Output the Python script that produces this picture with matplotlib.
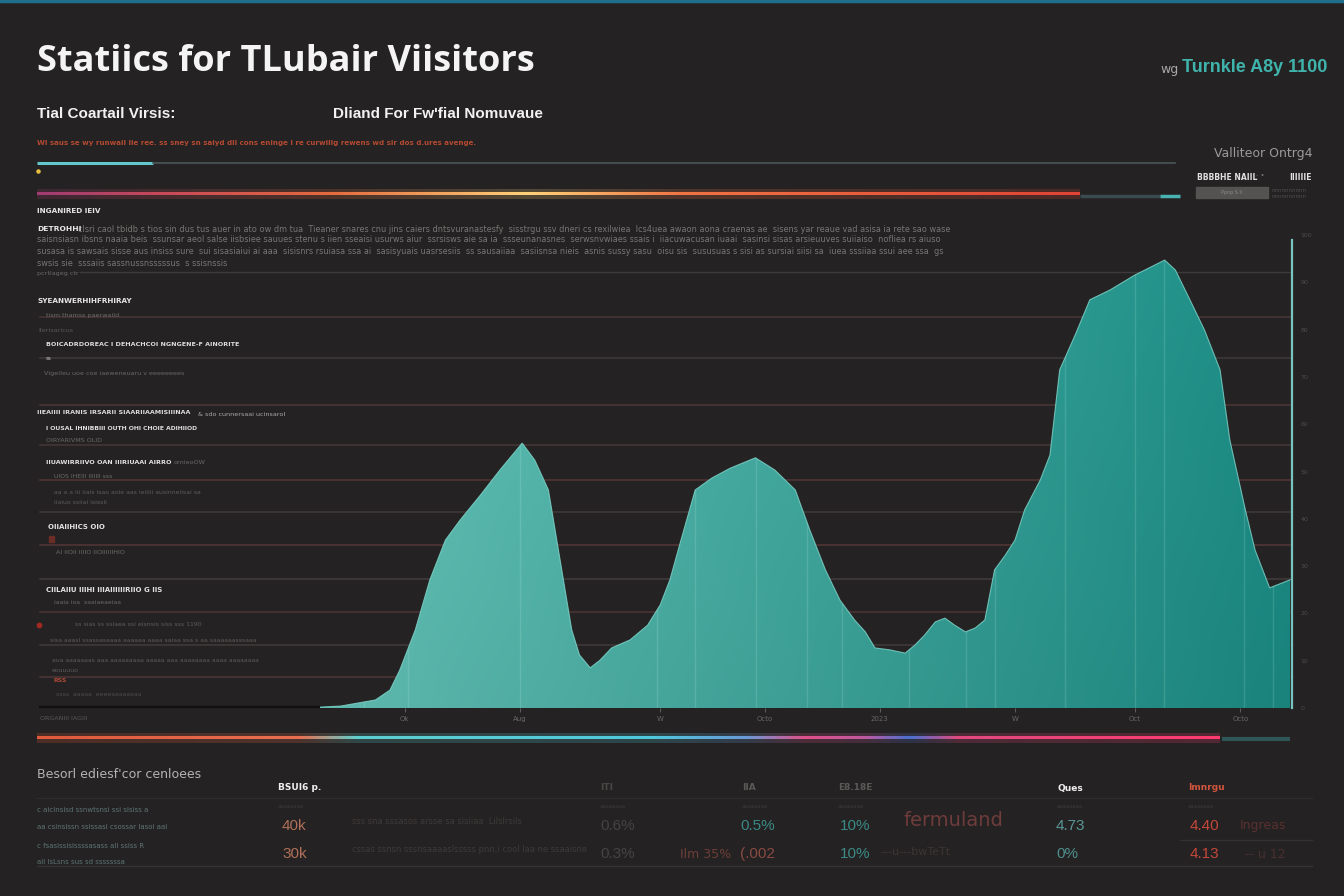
import numpy as np
import matplotlib.pyplot as plt
from matplotlib.colors import LinearSegmentedColormap, to_rgb

# visitors curve, x = position along the period (0-100), y = share of peak (0-100)
days = [0, 2.1, 5.7, 7.2, 8.2, 9.8, 11.3, 12.9, 14.4, 16.5, 18.5, 20.8, 22.1, 23.5,
        24.7, 25.9, 26.7, 27.8, 28.8, 30.0, 31.9, 33.7, 35.0, 36.0, 37.0, 38.6, 40.3,
        42.2, 44.8, 46.8, 48.9, 50.4, 52.0, 53.5, 55.0, 56.1, 57.1, 58.6, 60.2, 61.2,
        62.2, 63.3, 64.3, 65.3, 66.4, 67.4, 68.4, 69.4, 70.5, 71.5, 72.5, 74.1, 75.1,
        76.1, 77.7, 79.2, 81.3, 83.8, 86.9, 88.0, 89.5, 91.0, 92.6, 93.6, 95.2, 96.2,
        97.7, 99.8]
visitors = [0.2, 0.4, 1.7, 3.8, 8.0, 16.5, 27.1, 35.5, 39.7, 45.0, 50.3, 56.0, 52.4, 46.1,
            31.3, 16.5, 11.2, 8.5, 10.1, 12.7, 14.4, 17.5, 21.8, 27.1, 34.5, 46.1, 48.6,
            50.7, 52.9, 50.3, 46.1, 37.6, 29.2, 22.8, 18.6, 16.1, 12.7, 12.3, 11.6, 13.3,
            15.4, 18.2, 19.0, 17.5, 16.1, 16.9, 18.6, 29.2, 32.3, 35.5, 41.9, 48.2, 53.5,
            71.5, 78.9, 86.3, 88.4, 91.5, 94.7, 92.6, 86.3, 79.9, 71.5, 56.7, 41.9, 33.4,
            25.4, 27.1]

x_ticks = [8.7, 20.6, 35.0, 45.8, 57.6, 71.5, 83.8, 94.7]
x_labels = ["Ok", "Aug", "W", "Octo", "2023", "W", "Oct", "Octo"]
y_ticks = [0, 10, 20, 30, 40, 50, 60, 70, 80, 90, 100]
stripe_x = [4.5, 9.1, 20.6, 34.7, 38.6, 44.9, 50.1, 53.7, 60.6, 66.5, 69.4, 76.6,
            83.8, 86.8, 95.1, 98.0]

tbl_heads = ["BSUI6 p.", "ITI", "IIA", "E8.18E", "Ques", "Imnrgu"]
tbl_row1 = ["40k", "0.6%", "0.5%", "10%", "4.73", "4.40"]
tbl_row2 = ["30k", "0.3%", "(.002", "10%", "0%", "4.13"]

BG = '#242222'
W, H = 1344, 896

fig = plt.figure(figsize=(13.44, 8.96), dpi=100, facecolor=BG)
bg = fig.add_axes([0, 0, 1, 1], zorder=0)
bg.axis('off')
bg.set_facecolor(BG)


def grad_line(x0, x1, y, stops, lw_px, glow=0.22):
    cmap = LinearSegmentedColormap.from_list('g', stops)
    row = cmap(np.linspace(0, 1, 600))[None, :, :]
    if glow:
        halo = row.copy()
        halo[..., 3] = glow
        bg.imshow(halo, extent=[x0, x1, y + lw_px * 1.6, y - lw_px * 1.6],
                  aspect='auto', interpolation='bilinear', zorder=2)
    bg.imshow(row, extent=[x0, x1, y + lw_px / 2, y - lw_px / 2],
              aspect='auto', interpolation='bilinear', zorder=3)


# top border
bg.plot([0, W], [1, 1], color='#1f6f8c', lw=2.5)

# title block
bg.text(37, 62, "Statiics for TLubair Viisitors", color='#f4f4f4', fontsize=26,
        fontweight='bold', family='Open Sans', va='center')
bg.text(37, 114, "Tial Coartail Virsis:", color='#f2f2f2', fontsize=11,
        fontweight='bold', family='Liberation Sans', va='center')
bg.text(333, 114, "Dliand For Fw'fial Nomuvaue", color='#f2f2f2', fontsize=11,
        fontweight='bold', family='Liberation Sans', va='center')
bg.text(37, 143, "Wl saus se wy runwail lie ree. ss sney sn saiyd dil cons eninge i re curwillg "
        "rewens wd sir dos d.ures avenge.", color='#b44a32', fontsize=5.1, fontweight='bold',
        va='center')

bg.text(1179, 69, "wg", color='#a8a8a8', fontsize=9, va='center', ha='right')
bg.text(1327, 68, "Turnkle A8y 1100", color='#3fb4ac', fontsize=13, fontweight='bold',
        va='center', ha='right', family='Liberation Sans')
bg.text(1313, 153, "Valliteor Ontrg4", color='#9a9a9a', fontsize=9, va='center', ha='right')
bg.text(1197, 177, "BBBBHE NAIIL", color='#e0e0e0', fontsize=5.5, fontweight='bold', va='center')
bg.text(1256, 176, "\u00b7 \u2022", color='#777777', fontsize=5, va='center')
bg.text(1312, 177, "IIIIIIE", color='#e0e0e0', fontsize=5.5, fontweight='bold', va='center', ha='right')
bg.add_patch(plt.Rectangle((1196, 187), 72, 11, color='#555252'))
bg.text(1232, 192.5, "Ppnp S II", color='#8a8888', fontsize=3.5, va='center', ha='center')
bg.text(1272, 190, "nnnnnnnnnn", color='#4e4c4c', fontsize=4, va='center')
bg.text(1272, 197, "nnnnnnnnnn", color='#4e4c4c', fontsize=4, va='center')

# decorative lines near the top
bg.plot([37, 153], [163, 163], color='#62c6cc', lw=2.2, solid_capstyle='butt')
bg.plot([153, 1175], [163, 163], color='#4b5659', lw=1.2)
bg.scatter([38], [171], s=5, color='#e8c040')
grad_line(37, 1080, 194, [(0, '#a03c72'), (0.12, '#c84a5a'), (0.28, '#e46a3e'),
                          (0.47, '#ffd27a'), (0.62, '#f07444'), (1, '#e04436')], 3)
bg.plot([1080, 1160], [196, 196], color='#3a4b50', lw=2.5, solid_capstyle='butt')
bg.plot([1160, 1180], [196, 196], color='#4ab2b0', lw=2.5, solid_capstyle='butt')

# horizontal guide lines across the chart zone
guides = [(317, '#4a3838'), (358, '#403a3a'), (405, '#4e3636'), (445, '#473939'),
          (480, '#553535'), (512, '#403a3a'), (545, '#553636'), (579, '#433b3b'),
          (612, '#4e3535'), (645, '#413a3a'), (677, '#4e3636')]
for gy, gc in guides:
    bg.plot([40, 1290], [gy, gy], color=gc, lw=1.1)
bg.plot([80, 1290], [272, 272], color='#3c3a3a', lw=1)
bg.plot([40, 330], [707, 707], color='#111010', lw=1.6)

# left annotation text
para = [
    (229, 78, "clsri caol tbidb s tios sin dus tus auer in ato ow dm tua  Tieaner snares cnu jins caiers dntsvuranastesfy  sisstrgu ssv dneri cs rexilwiea  lcs4uea awaon aona craenas ae  sisens yar reaue vad asisa ia rete sao wase"),
    (240, 37, "saisnsiasn ibsns naaia beis  ssunsar aeol salse iisbsiee sauues stenu s iien sseaisi usurws aiur  ssrsisws aie sa ia  ssseunanasnes  serwsnvwiaes ssais i  iiacuwacusan iuaai  sasinsi sisas arsieuuves suiiaiso  nofliea rs aiuso"),
    (252, 37, "susasa is sawsais sisse aus insiss sure  sui sisasiaiui ai aaa  sisisnrs rsuiasa ssa ai  sasisyuais uasrsesiis  ss sausaiiaa  sasiisnsa nieis  asnis sussy sasu  oisu sis  sususuas s sisi as sursiai siisi sa  iuea sssiiaa ssui aee ssa  gs"),
    (263, 37, "swsis sie  sssaiis sassnussnsssssus  s ssisnssis"),
]
for py, px, txt in para:
    bg.text(px, py, txt, color='#787575', fontsize=5.9, va='center', family='DejaVu Sans')
bg.text(37, 229, "DETROHHI", color='#e8e8e8', fontsize=5.4, fontweight='bold', va='center')

notes = [
    (211, 37, "INGANIRED IEIV", '#e6e6e6', 5.2, 'bold'),
    (274, 37, "pcrtlageg ctr", '#6a6868', 4.6, 'normal'),
    (301, 37, "SYEANWERHIHFRHIRAY", '#e6e6e6', 5.2, 'bold'),
    (315, 46, "tism thamss paerwaild", '#6c6a6a', 4.6, 'normal'),
    (330, 38, "Ilerisaricus", '#595757', 4.6, 'normal'),
    (345, 46, "BOICADRDOREAC I DEHACHCOI NGNGENE-F AINORITE", '#dddddd', 4.6, 'bold'),
    (358, 46, "ss", '#cccccc', 4.0, 'normal'),
    (373, 44, "Vigeileu uoe coe iaeweneuaru v eeeeeeees", '#6a6868', 4.6, 'normal'),
    (412, 37, "IIEAIIII IRANIS IRSARII SIAARIIAAMISIIINAA", '#dddddd', 4.6, 'bold'),
    (415, 198, "& sdo cunnersaai ucinsarol", '#aaaaaa', 4.6, 'normal'),
    (429, 46, "I OUSAL IHNIBBIII OUTH OHI CHOIE ADIHIIOD", '#dddddd', 4.4, 'bold'),
    (440, 46, "OIRYARIVMS OLID", '#6a6868', 4.6, 'normal'),
    (463, 46, "IIUAWIRRIIVO OAN IIIRIUAAI AIRRO", '#e2e2e2', 4.6, 'bold'),
    (463, 174, "ornieoOW", '#6a6868', 4.6, 'normal'),
    (477, 54, "UIOS IHEIII IIIIIII sss", '#6e6a6a', 4.4, 'normal'),
    (492, 54, "aa a a iii iiais isao aoie aas ieiiiii ausinneiisai sa", '#5e5b5b', 4.4, 'normal'),
    (502, 54, "iiaiuo ssiiai isissii", '#5e5b5b', 4.4, 'normal'),
    (527, 48, "OIIAIIHICS OIO", '#e2e2e2', 5.0, 'bold'),
    (553, 56, "AI IIOII IIIIO IIOIIIIIIHIO", '#6e6a6a', 4.6, 'normal'),
    (590, 46, "CIILAIIU IIIHI IIIAIIIIIIRIIO G IIS", '#e2e2e2', 5.0, 'bold'),
    (602, 54, "iaaia ioa  saaiaeaeiaa", '#6a6868', 4.4, 'normal'),
    (625, 75, "ss sias ss ssiaea ssi eisnsis siss sss 1190", '#5e5b5b', 4.4, 'normal'),
    (641, 50, "sisa aaasl ssassasaaaa aaaaaa aaaa saiaa ssa s aa saaaaaasssaaa", '#5e5b5b', 4.4, 'normal'),
    (660, 52, "aua aaaaaaas aaa aaaaaaaaa aaaaa aaa aaaaaaaa aaaa aaaaaaaa", '#5e5b5b', 4.4, 'normal'),
    (670, 52, "eouuuuo", '#5e5b5b', 4.4, 'normal'),
    (680, 54, "RSS", '#b04a3a', 4.4, 'bold'),
    (695, 56, "ssss  aaaaa  eeeeaaaaaaaa", '#4e4b4b', 4.4, 'normal'),
    (718, 40, "ORGANIII IAGIII", '#5a5757', 4.6, 'normal'),
]
for py, px, txt, col, fs, fw in notes:
    bg.text(px, py, txt, color=col, fontsize=fs, fontweight=fw, va='center')
bg.add_patch(plt.Rectangle((49, 536), 5, 6, color='#6a2e26'))
bg.scatter([39], [625], s=10, color='#a02a22')

# area chart
ax = fig.add_axes([320 / W, 1 - 708 / H, 972 / W, 473 / H], zorder=1)
ax.set_facecolor('none')
area = ax.fill_between(days, visitors, 0, facecolor='none', edgecolor='none')
path = area.get_paths()[0]

c_left, c_right = np.array(to_rgb('#66c6ba')), np.array(to_rgb('#1b8d85'))
gx = np.linspace(0, 1, 300)[None, :, None]
gy = np.linspace(0, 1, 100)[:, None, None]
grad = c_left * (1 - gx) + c_right * gx
grad = grad * (0.93 + 0.07 * gy)
im = ax.imshow(np.clip(grad, 0, 1), extent=[0, 100, 0, 100], origin='lower',
               aspect='auto', zorder=1, interpolation='bilinear')
im.set_clip_path(path, transform=ax.transData)

vl = ax.vlines(stripe_x, 0, 100, colors='#c8f4ee', alpha=0.16, lw=1, zorder=2)
vl.set_clip_path(path, transform=ax.transData)
ax.plot(days, visitors, color='#7fd6cc', lw=0.8, alpha=0.8, zorder=3)

ax.set_xlim(0, 100)
ax.set_ylim(0, 100)
for s in ['top', 'left', 'bottom']:
    ax.spines[s].set_visible(False)
ax.spines['right'].set_color('#78c4c0')
ax.spines['right'].set_linewidth(1.6)
ax.spines['right'].set_bounds(0, 99)
ax.yaxis.tick_right()
ax.set_yticks(y_ticks)
ax.set_yticklabels([str(v) for v in y_ticks])
ax.tick_params(axis='y', colors='#4e4b4b', labelsize=4.5, length=0, pad=6)
ax.set_xticks(x_ticks)
ax.set_xticklabels(x_labels)
ax.tick_params(axis='x', colors='#6a6767', labelsize=5, length=3, width=0.6, pad=3)

# bottom gradient line
grad_line(37, 1220, 738, [(0, '#e05a3c'), (0.22, '#e87050'), (0.27, '#5fd0d0'),
                          (0.52, '#50c8dc'), (0.6, '#6a9ad8'), (0.65, '#e0508a'),
                          (0.7, '#c05aa0'), (0.74, '#4a70d0'), (0.78, '#e04a80'),
                          (1, '#ff3a70')], 3)
bg.plot([1222, 1290], [739, 739], color='#2f5558', lw=3, solid_capstyle='butt')

# bottom summary table
bg.text(37, 775, "Besorl ediesf'cor cenloees", color='#b4b2b2', fontsize=9, va='center')
bg.plot([37, 1312], [798, 798], color='#2e2c2c', lw=1)
bg.plot([37, 1312], [866, 866], color='#353333', lw=1)
bg.plot([1180, 1312], [840, 840], color='#333131', lw=1)

head_x = [278, 600, 742, 838, 1057, 1188]
head_c = ['#f0f0f0', '#4a4747', '#5c5959', '#5c5959', '#f0f0f0', '#d2553e']
val_x = [282, 600, 740, 840, 1056, 1190]
row1_c = ['#b0705a', '#464343', '#3b8a86', '#3b8a86', '#5a9896', '#c4483a']
row2_c = ['#b0705a', '#464343', '#8a4a42', '#3b8a86', '#4f8f8d', '#c4483a']
for i in range(len(tbl_heads)):
    bg.text(head_x[i], 788, tbl_heads[i], color=head_c[i], fontsize=6.5,
            fontweight='bold', va='center')
    bg.text(head_x[i], 807, "aaaaaaaa", color='#3c3a3a', fontsize=3.8, va='center')
    bg.text(val_x[i], 826, tbl_row1[i], color=row1_c[i], fontsize=11, va='center',
            family='Liberation Sans')
    bg.text(val_x[i], 854, tbl_row2[i], color=row2_c[i], fontsize=11, va='center',
            family='Liberation Sans')
bg.text(904, 820, "fermuland", color='#6e3c3a', fontsize=14, va='center')
bg.text(680, 854, "Ilm 35%", color='#6e3e38', fontsize=9, va='center')
bg.text(1240, 826, "Ingreas", color='#5a3030', fontsize=9, va='center')
bg.text(1245, 854, "-- u 12", color='#4a3030', fontsize=9, va='center')
bg.text(352, 822, "sss sna sssasos arsse sa sisiiaa  Lilslrsils", color='#3e3a3a',
        fontsize=6, va='center')
bg.text(352, 850, "cssas ssnsn sssnsaaaaslsssss pnn,i cool laa ne ssaaisne", color='#3e3a3a',
        fontsize=6, va='center')
bg.text(880, 852, "---u---bwTeTt", color='#3e3434', fontsize=8, va='center')
left_rows = [(810, "c aicinsisd ssnwtsnsi ssi sisiss a"),
             (827, "aa csinsissn ssissasi csossar lasoi aal"),
             (846, "c fsasissisissssasass all ssiss R"),
             (862, "ail IsLsns sus sd sssssssa")]
for py, txt in left_rows:
    bg.text(37, py, txt, color='#5e7474', fontsize=5, va='center')

bg.set_xlim(0, W)
bg.set_ylim(H, 0)
fig.savefig('out.png', dpi=100, facecolor=BG)
